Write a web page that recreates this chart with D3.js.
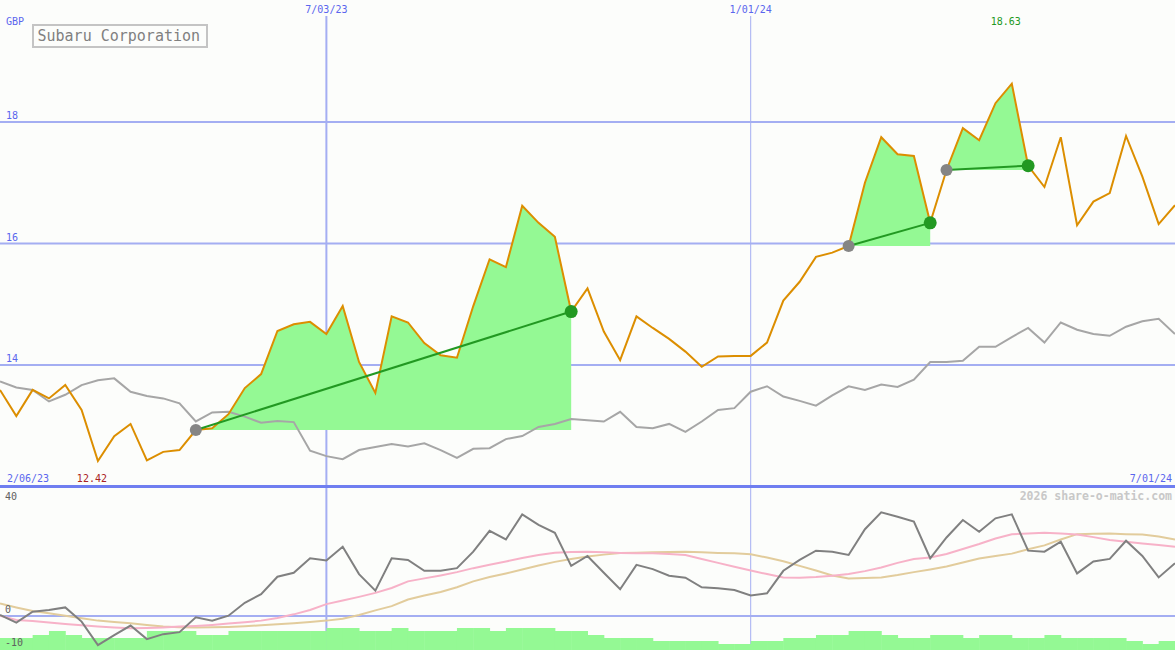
<!DOCTYPE html>
<html>
<head>
<meta charset="utf-8">
<script src="https://cdn.jsdelivr.net/npm/d3@7"></script>
<style>
  html, body { margin: 0; padding: 0; background: #fcfdfb; }
  svg { display: block; }
  text { font-family: "DejaVu Sans Mono", monospace; }
</style>
</head>
<body>
<svg id="chart" width="1175" height="650"></svg>
<script>
// ---------- data (weekly closes) ----------
const price = [13.59,13.16,13.59,13.45,13.67,13.26,12.42,12.83,13.03,12.43,
               12.57,12.60,12.93,12.96,13.19,13.62,13.85,14.56,14.67,14.71,
               14.51,14.97,14.05,13.54,14.80,14.70,14.36,14.16,14.12,14.97,
               15.74,15.61,16.62,16.34,16.11,14.88,15.26,14.55,14.08,14.80,
               14.61,14.43,14.22,13.97,14.14,14.15,14.15,14.37,15.06,15.37,
               15.78,15.85,15.96,17.00,17.75,17.47,17.44,16.34,17.21,17.90,
               17.70,18.31,18.63,17.28,16.93,17.75,16.30,16.69,16.83,17.77,
               17.10,16.32,16.63];
const compare = [13.73,13.63,13.59,13.40,13.51,13.67,13.75,13.78,13.56,13.49,
                 13.45,13.37,13.07,13.22,13.23,13.15,13.05,13.08,13.06,12.59,
                 12.50,12.45,12.60,12.65,12.70,12.66,12.71,12.60,12.47,12.62,
                 12.63,12.78,12.83,12.98,13.03,13.11,13.09,13.07,13.23,12.98,
                 12.96,13.03,12.90,13.07,13.26,13.29,13.56,13.65,13.48,13.41,
                 13.33,13.50,13.65,13.59,13.68,13.64,13.76,14.05,14.05,14.07,
                 14.30,14.30,14.46,14.61,14.37,14.70,14.58,14.51,14.48,14.63,
                 14.72,14.76,14.51];
const momentum = [0.3,-2.0,1.3,1.8,2.6,-1.7,-8.8,-5.8,-2.9,-7.0,
                  -5.5,-4.9,-0.4,-1.4,0.1,4.0,6.6,11.9,13.1,17.5,
                  16.8,21.0,12.7,7.7,17.5,17.0,13.7,13.7,14.5,19.5,
                  25.8,23.2,30.8,27.6,25.2,15.2,18.2,13.1,8.1,15.5,
                  14.2,12.2,11.6,8.7,8.4,7.9,6.2,6.9,13.7,17.0,
                  19.8,19.5,18.5,26.3,31.4,30.1,28.6,17.5,23.8,29.1,
                  25.5,29.6,30.8,19.8,19.5,22.5,12.9,16.5,17.3,22.8,
                  18.2,11.7,16.0];
const maFast = [0.1,-1.2,-1.5,-2.0,-2.4,-2.8,-3.2,-3.5,-3.7,-3.6,
                -3.5,-3.2,-3.0,-2.7,-2.3,-1.9,-1.4,-0.6,0.5,1.8,
                3.6,4.7,5.8,7.0,8.5,10.5,11.4,12.3,13.3,14.5,
                15.5,16.5,17.6,18.5,19.2,19.4,19.5,19.3,19.1,19.0,
                19.0,18.8,18.5,17.3,16.1,14.9,13.8,12.7,11.7,11.6,
                11.8,12.2,12.7,13.6,14.7,16.1,17.3,17.7,18.8,20.3,
                21.8,23.5,24.8,25.0,25.2,25.0,24.7,23.9,23.0,22.5,
                22.0,21.5,21.0];
const maSlow = [3.8,2.6,1.5,0.8,0.1,-0.7,-1.4,-1.8,-2.2,-2.7,
                -3.2,-3.4,-3.5,-3.4,-3.3,-3.1,-2.8,-2.5,-2.2,-1.8,
                -1.4,-0.8,0.3,1.7,3.0,5.0,6.2,7.3,8.7,10.5,
                11.8,12.9,14.1,15.3,16.4,17.3,18.0,18.6,19.1,19.2,
                19.3,19.4,19.5,19.3,19.1,19.0,18.7,17.7,16.6,15.2,
                13.8,12.3,11.4,11.5,11.7,12.4,13.3,14.1,15.0,16.2,
                17.4,18.2,18.9,20.2,21.4,23.2,24.8,24.9,25.0,24.8,
                24.7,24.1,23.2];
const volume = [12,12,15,19,15,12,12,12,12,19,
                19,19,15,15,19,19,19,19,19,19,
                22,22,19,19,22,19,19,19,22,22,
                19,22,22,22,19,19,15,12,12,12,
                9,9,9,9,6,6,9,9,12,12,
                15,15,19,19,15,12,12,15,15,12,
                15,15,12,12,15,12,12,12,12,9,
                6,9,9];
const trades = [{entry: 12, exit: 35}, {entry: 52, exit: 57}, {entry: 58, exit: 63}];
const dateTickIdx = [20, 46];
const dateTickLabels = ["7/03/23", "1/01/24"];
const priceTicks = [14, 16, 18];
const oscTicks = [40, 0, -10];
const firstDate = "2/06/23", lastDate = "7/01/24";
const title = "Subaru Corporation";

// ---------- scales ----------
const W = 1175, H = 650;
const svg = d3.select("#chart");
const idx = d3.range(price.length);
const x = d3.scaleLinear().domain([0, price.length - 1]).range([0, W]);
const y = d3.scaleLinear().domain([12, 20]).range([486.5, 0.5]);
const yo = d3.scaleLinear().domain([-10, 40]).range([649, 484]);
const yv = d3.scaleLinear().domain([0, 25]).range([650, 625]);

const gridC = "#a4aef2", labelC = "#5a66ee";

svg.append("rect").attr("width", W).attr("height", H).attr("fill", "#fcfdfb");

// vertical date grid lines
dateTickIdx.forEach((d, k) => {
  svg.append("line").attr("x1", x(d)).attr("x2", x(d)).attr("y1", 16).attr("y2", H)
    .attr("stroke", gridC).attr("stroke-width", k === 0 ? 2 : 1);
  svg.append("text").attr("x", x(d)).attr("y", 13).attr("text-anchor", "middle")
    .attr("font-size", 10).attr("fill", labelC).text(dateTickLabels[k]);
});

// horizontal price grid
priceTicks.forEach(t => {
  svg.append("line").attr("x1", 0).attr("x2", W).attr("y1", y(t)).attr("y2", y(t))
    .attr("stroke", gridC).attr("stroke-width", 2);
  svg.append("text").attr("x", 6).attr("y", y(t) - 3).attr("font-size", 10)
    .attr("fill", labelC).text(t);
});

// lower panel zero line
svg.append("line").attr("x1", 0).attr("x2", W).attr("y1", yo(0)).attr("y2", yo(0))
  .attr("stroke", gridC).attr("stroke-width", 2);

// trade fills
trades.forEach(tr => {
  const seg = d3.range(tr.entry, tr.exit + 1);
  const base = y(price[tr.entry]);
  svg.append("path").datum(seg)
    .attr("d", d3.area().x(i => x(i)).y0(base).y1(i => y(price[i])))
    .attr("fill", "#94f994");
});

// comparison line
svg.append("path").datum(idx)
  .attr("d", d3.line().x(i => x(i)).y(i => y(compare[i])))
  .attr("fill", "none").attr("stroke", "#a6a6a6").attr("stroke-width", 2);

// price line
svg.append("path").datum(idx)
  .attr("d", d3.line().x(i => x(i)).y(i => y(price[i])))
  .attr("fill", "none").attr("stroke", "#dc8e00").attr("stroke-width", 2);

// trade lines + markers
trades.forEach(tr => {
  svg.append("line").attr("x1", x(tr.entry)).attr("y1", y(price[tr.entry]))
    .attr("x2", x(tr.exit)).attr("y2", y(price[tr.exit]))
    .attr("stroke", "#229922").attr("stroke-width", 2);
  svg.append("circle").attr("cx", x(tr.entry)).attr("cy", y(price[tr.entry])).attr("r", 6)
    .attr("fill", "#858585");
  svg.append("circle").attr("cx", x(tr.exit)).attr("cy", y(price[tr.exit])).attr("r", 6.5)
    .attr("fill", "#229922");
});

// main bottom separator
svg.append("line").attr("x1", 0).attr("x2", W).attr("y1", 486.5).attr("y2", 486.5)
  .attr("stroke", "#6f7ef0").attr("stroke-width", 3);

// labels in main panel
svg.append("text").attr("x", 6).attr("y", 25).attr("font-size", 10).attr("fill", labelC).text("GBP");
svg.append("rect").attr("x", 33).attr("y", 25).attr("width", 174).attr("height", 22)
  .attr("fill", "none").attr("stroke", "#c4c4c4").attr("stroke-width", 2);
svg.append("text").attr("x", 37.5).attr("y", 41).attr("font-size", 15).attr("fill", "#808080").text(title);

const maxI = d3.maxIndex(price), minI = d3.minIndex(price);
svg.append("text").attr("x", x(maxI) - 6).attr("y", 25).attr("text-anchor", "middle")
  .attr("font-size", 10).attr("fill", "#229922").text(d3.format(".2f")(price[maxI]));
svg.append("text").attr("x", x(minI) - 6).attr("y", 482).attr("text-anchor", "middle")
  .attr("font-size", 10).attr("fill", "#aa2222").text(d3.format(".2f")(price[minI]));
svg.append("text").attr("x", 7).attr("y", 482).attr("font-size", 10).attr("fill", labelC).text(firstDate);
svg.append("text").attr("x", 1172).attr("y", 482).attr("text-anchor", "end")
  .attr("font-size", 10).attr("fill", labelC).text(lastDate);

// ---------- lower panel ----------
const step = x(1) - x(0);
svg.append("g").selectAll("rect").data(idx).join("rect")
  .attr("x", i => x(i)).attr("width", step + 0.5)
  .attr("y", i => yv(volume[i])).attr("height", i => yv(0) - yv(volume[i]))
  .attr("fill", "#94f994");

svg.append("path").datum(idx)
  .attr("d", d3.line().x(i => x(i)).y(i => yo(maSlow[i])))
  .attr("fill", "none").attr("stroke", "#e2cc9c").attr("stroke-width", 2);
svg.append("path").datum(idx)
  .attr("d", d3.line().x(i => x(i)).y(i => yo(maFast[i])))
  .attr("fill", "none").attr("stroke", "#f7b2c8").attr("stroke-width", 2);
svg.append("path").datum(idx)
  .attr("d", d3.line().x(i => x(i)).y(i => yo(momentum[i])))
  .attr("fill", "none").attr("stroke", "#808080").attr("stroke-width", 2);

const oscLabelY = {"40": 500, "0": 613, "-10": 646};
oscTicks.forEach(t => {
  svg.append("text").attr("x", 5).attr("y", oscLabelY[String(t)]).attr("font-size", 10)
    .attr("fill", "#606060").text(t);
});

svg.append("text").attr("x", 1172).attr("y", 500).attr("text-anchor", "end")
  .attr("font-size", 11.5).attr("font-weight", "bold").attr("fill", "#c8c8c8")
  .text("2026 share-o-matic.com");
</script>
</body>
</html>
